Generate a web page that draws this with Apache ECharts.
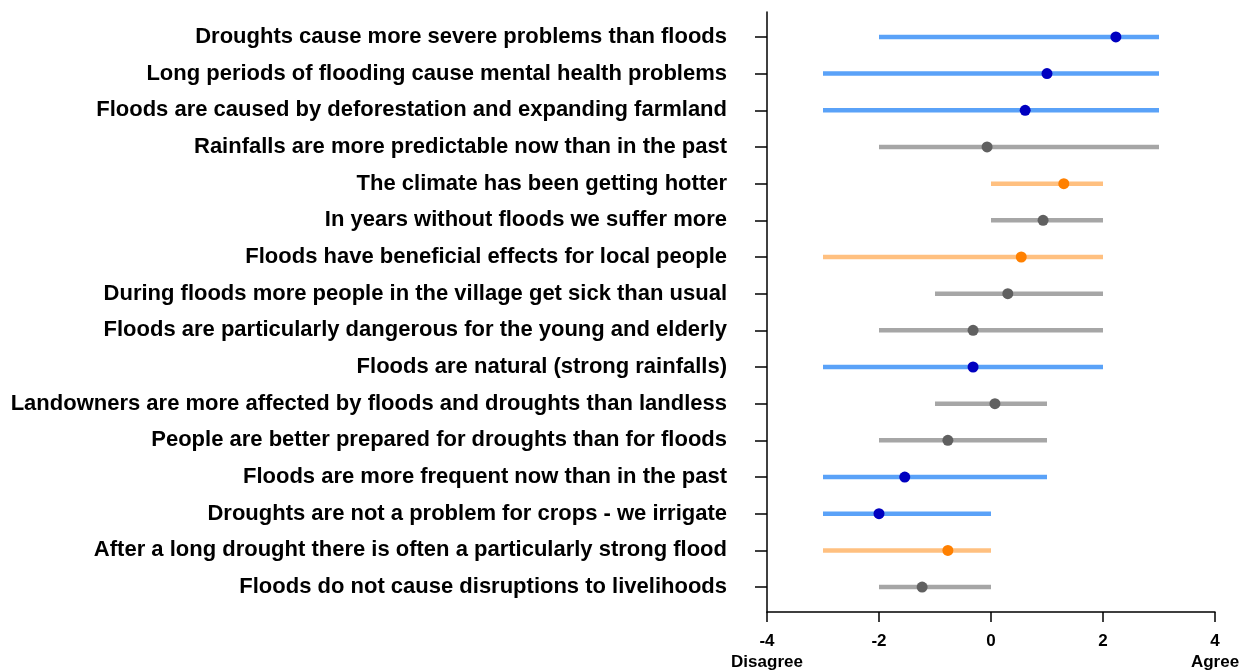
<!DOCTYPE html>
<html><head><meta charset="utf-8">
<script src="https://cdn.jsdelivr.net/npm/echarts@6/dist/echarts.min.js"></script>
<style>html,body{margin:0;padding:0;background:#fff}#c{width:1242px;height:670px}</style>
</head><body><div id="c"></div>
<script>
const statements = [
  "Droughts cause more severe problems than floods",
  "Long periods of flooding cause mental health problems",
  "Floods are caused by deforestation and expanding farmland",
  "Rainfalls are more predictable now than in the past",
  "The climate has been getting hotter",
  "In years without floods we suffer more",
  "Floods have beneficial effects for local people",
  "During floods more people in the village get sick than usual",
  "Floods are particularly dangerous for the young and elderly",
  "Floods are natural (strong rainfalls)",
  "Landowners are more affected by floods and droughts than landless",
  "People are better prepared for droughts than for floods",
  "Floods are more frequent now than in the past",
  "Droughts are not a problem for crops - we irrigate",
  "After a long drought there is often a particularly strong flood",
  "Floods do not cause disruptions to livelihoods"
];
const rangeMin = [-2, -3, -3, -2, 0, 0, -3, -1, -2, -3, -1, -2, -3, -3, -3, -2];
const rangeMax = [3, 3, 3, 3, 2, 2, 2, 2, 2, 2, 1, 1, 1, 0, 0, 0];
const meanScore = [2.23, 1.0, 0.61, -0.07, 1.3, 0.93, 0.54, 0.3, -0.32, -0.32, 0.07, -0.77, -1.54, -2.0, -0.77, -1.23];
const group = ["blue","blue","blue","grey","orange","grey","orange","grey","grey","blue","grey","grey","blue","blue","orange","grey"];
const xTicks = [-4, -2, 0, 2, 4];
const xEndNames = {"-4": "Disagree", "4": "Agree"};

const lineColor = {blue: "#5aa2f8", grey: "#a6a6a6", orange: "#ffc080"};
const dotColor = {blue: "#0000c0", grey: "#606060", orange: "#ff8000"};
const rows = statements.map((s, i) => i + 1);

const chart = echarts.init(document.getElementById('c'));
chart.setOption({
  animation: false,
  textStyle: {fontFamily: "Liberation Sans, Arial, sans-serif"},
  grid: {left: 767, right: 27, top: 12, bottom: 58, containLabel: false, outerBoundsMode: 'none'},
  xAxis: {
    type: 'value', min: -4, max: 4, interval: 2,
    splitLine: {show: false},
    axisLine: {show: true, onZero: false, lineStyle: {color: '#000', width: 1.5}},
    axisTick: {show: true, length: 10, lineStyle: {color: '#000', width: 1.5}},
    axisLabel: {
      margin: 19, color: '#000', fontWeight: 'bold', fontSize: 17, lineHeight: 21,
      formatter: v => xEndNames[String(v)] ? v + "\n" + xEndNames[String(v)] : String(v)
    }
  },
  yAxis: {
    type: 'value', min: 0.32, max: 16.68, inverse: true,
    splitLine: {show: false},
    axisLine: {show: true, onZero: false, lineStyle: {color: '#000', width: 1.5}},
    axisTick: {show: true, length: 12, customValues: rows, lineStyle: {color: '#000', width: 1.5}},
    axisLabel: {
      customValues: rows, margin: 40, color: '#000', fontWeight: 'bold', fontSize: 22,
      padding: [6, 0, 0, 0],
      formatter: v => statements[Math.round(v) - 1] || ''
    }
  },
  series: [
    {
      type: 'custom',
      data: rows.map((r, i) => [rangeMin[i], rangeMax[i], r, i]),
      renderItem: (params, api) => {
        const i = api.value(3);
        const p1 = api.coord([api.value(0), api.value(2)]);
        const p2 = api.coord([api.value(1), api.value(2)]);
        return {type: 'line', shape: {x1: p1[0], y1: p1[1], x2: p2[0], y2: p2[1]},
          style: {stroke: lineColor[group[i]], lineWidth: 4.5}};
      },
      z: 2
    },
    {
      type: 'scatter', symbolSize: 11, z: 3,
      data: rows.map((r, i) => ({value: [meanScore[i], r], itemStyle: {color: dotColor[group[i]], opacity: 1}}))
    }
  ]
});
</script></body></html>
